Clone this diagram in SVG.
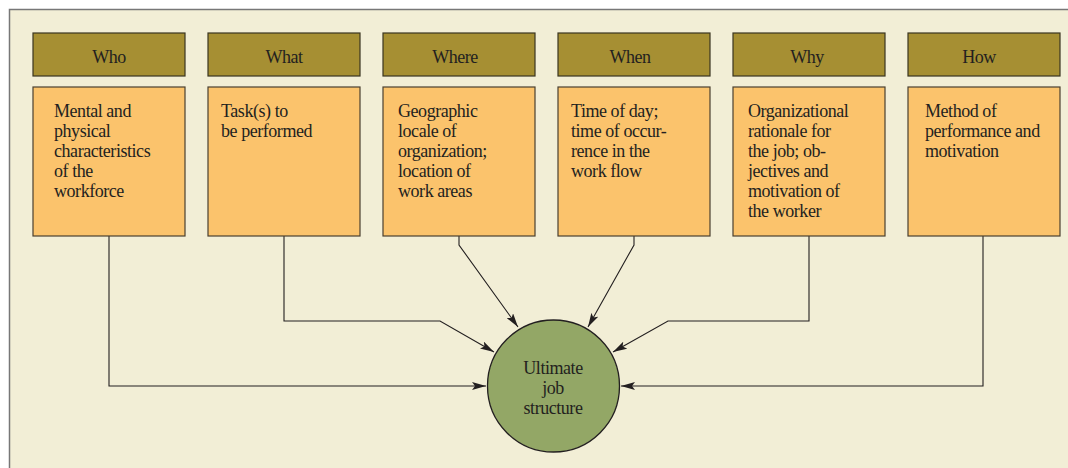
<svg xmlns="http://www.w3.org/2000/svg" width="1068" height="468" viewBox="0 0 1068 468">
  <style>
    .hdr { fill: #a68f33; stroke: #3a3520; stroke-width: 1.2; }
    .body { fill: #fbc36c; stroke: #4a4030; stroke-width: 1.2; }
    .t { font-family: 'Liberation Serif', 'DejaVu Serif', serif; font-size: 18px; fill: #231f20; letter-spacing: -0.45px; }
    .c { text-anchor: middle; }
    .conn { fill: none; stroke: #231f20; stroke-width: 1.1; }
  </style>
  <defs>
    <marker id="arrow" viewBox="0 0 14 8" refX="14" refY="4" markerWidth="14" markerHeight="8" markerUnits="userSpaceOnUse" orient="auto">
      <path d="M0,0 L14,4 L0,8 L3,4 Z" fill="#231f20"/>
    </marker>
  </defs>

  <!-- panel -->
  <rect x="0" y="0" width="1068" height="468" fill="#ffffff"/>
  <rect x="9.5" y="9.5" width="1070" height="470" fill="#f2eed6" stroke="#777" stroke-width="1.5"/>

  <!-- connectors -->
  <g id="connectors">
    <polyline class="conn" points="109,236 109,386 486,386" marker-end="url(#arrow)"/>
    <polyline class="conn" points="284,236 284,321 440,321 494,352" marker-end="url(#arrow)"/>
    <polyline class="conn" points="459,236 459,245 518,327" marker-end="url(#arrow)"/>
    <polyline class="conn" points="634,236 634,245 588,327" marker-end="url(#arrow)"/>
    <polyline class="conn" points="809,236 809,321 668,321 613,352" marker-end="url(#arrow)"/>
    <polyline class="conn" points="983,236 983,386 621,386" marker-end="url(#arrow)"/>
  </g>

  <g id="who">
    <rect class="hdr" x="33" y="33" width="152" height="43"/>
    <text class="t c" x="109" y="63">Who</text>
    <rect class="body" x="33" y="87" width="152" height="149"/>
    <text class="t" x="54" y="117">Mental and</text>
    <text class="t" x="54" y="137">physical</text>
    <text class="t" x="54" y="157">characteristics</text>
    <text class="t" x="54" y="177">of the</text>
    <text class="t" x="54" y="197">workforce</text>
  </g>

  <g id="what">
    <rect class="hdr" x="208" y="33" width="152" height="43"/>
    <text class="t c" x="284" y="63">What</text>
    <rect class="body" x="208" y="87" width="152" height="149"/>
    <text class="t" x="221" y="117">Task(s) to</text>
    <text class="t" x="221" y="137">be performed</text>
  </g>

  <g id="where">
    <rect class="hdr" x="383" y="33" width="152" height="43"/>
    <text class="t c" x="455" y="63">Where</text>
    <rect class="body" x="383" y="87" width="152" height="149"/>
    <text class="t" x="398" y="117">Geographic</text>
    <text class="t" x="398" y="137">locale of</text>
    <text class="t" x="398" y="157">organization;</text>
    <text class="t" x="398" y="177">location of</text>
    <text class="t" x="398" y="197">work areas</text>
  </g>

  <g id="when">
    <rect class="hdr" x="558" y="33" width="152" height="43"/>
    <text class="t c" x="630" y="63">When</text>
    <rect class="body" x="558" y="87" width="152" height="149"/>
    <text class="t" x="571" y="117">Time of day;</text>
    <text class="t" x="571" y="137">time of occur-</text>
    <text class="t" x="571" y="157">rence in the</text>
    <text class="t" x="571" y="177">work flow</text>
  </g>

  <g id="why">
    <rect class="hdr" x="733" y="33" width="152" height="43"/>
    <text class="t c" x="807" y="63">Why</text>
    <rect class="body" x="733" y="87" width="152" height="149"/>
    <text class="t" x="748" y="117">Organizational</text>
    <text class="t" x="748" y="137">rationale for</text>
    <text class="t" x="748" y="157">the job; ob-</text>
    <text class="t" x="748" y="177">jectives and</text>
    <text class="t" x="748" y="197">motivation of</text>
    <text class="t" x="748" y="217">the worker</text>
  </g>

  <g id="how">
    <rect class="hdr" x="908" y="33" width="152" height="43"/>
    <text class="t c" x="979" y="63">How</text>
    <rect class="body" x="908" y="87" width="152" height="149"/>
    <text class="t" x="925" y="117">Method of</text>
    <text class="t" x="925" y="137">performance and</text>
    <text class="t" x="925" y="157">motivation</text>
  </g>

  <g id="ultimate">
    <circle cx="553.5" cy="386" r="66" fill="#93a766" stroke="#231f20" stroke-width="1.3"/>
    <text class="t c" x="553" y="374">Ultimate</text>
    <text class="t c" x="553" y="394">job</text>
    <text class="t c" x="553" y="414">structure</text>
  </g>
</svg>
